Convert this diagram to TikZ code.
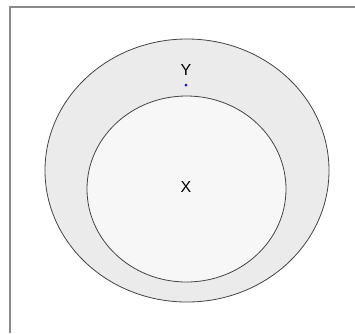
\documentclass[tikz,border=0pt]{standalone}
\usepackage{fontspec}
\setmainfont{Liberation Sans}
\definecolor{outerfill}{HTML}{EBEBEB}
\definecolor{innerfill}{HTML}{F7F7F7}
\definecolor{edge}{HTML}{444444}
\definecolor{framec}{HTML}{8A8A8A}
\begin{document}
\begin{tikzpicture}[x=1pt,y=-1pt,
  setshape/.style={draw=edge,line width=0.8pt},
  lbl/.style={font=\fontsize{16}{19}\selectfont,text=black,inner sep=0pt}]
\useasboundingbox (0,0) rectangle (355,333);
\fill[white] (0,0) rectangle (355,333);
\draw[framec,line width=1.2pt] (10,333) -- (10,7) -- (355,7);
\draw[setshape,fill=outerfill] (187,170.5) ellipse [x radius=142,y radius=131.5];
\draw[setshape,fill=innerfill] (186.5,189) ellipse [x radius=99.5,y radius=93];
\node[lbl] (Y) at (186,70) {Y};
\fill[blue] (186,85) circle (1.5);
\node[lbl] (X) at (186,187) {X};
\end{tikzpicture}
\end{document}
